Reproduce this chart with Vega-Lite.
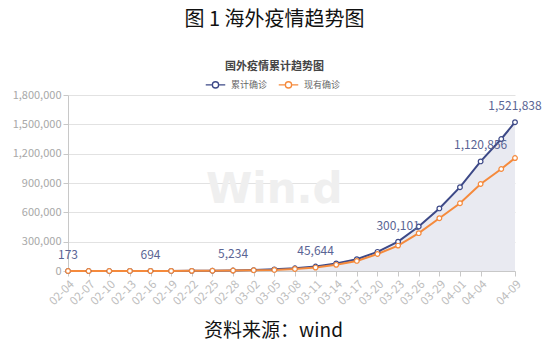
{
  "$schema": "https://vega.github.io/schema/vega-lite/v6.json",
  "width": 447,
  "height": 176,
  "autosize": {"type": "none"},
  "padding": {"left": 68, "top": 95, "right": 39, "bottom": 82},
  "background": "white",
  "title": {
    "text": "图 1 海外疫情趋势图",
    "subtitle": "国外疫情累计趋势图",
    "anchor": "middle",
    "frame": "group",
    "dx": -17,
    "offset": 2,
    "font": "Noto Sans CJK SC",
    "fontSize": 20,
    "fontWeight": "normal",
    "color": "#111111",
    "subtitleFont": "Noto Sans CJK SC",
    "subtitleFontSize": 11,
    "subtitleFontWeight": "bold",
    "subtitleColor": "#444444",
    "subtitlePadding": 31
  },
  "config": {
    "view": {"stroke": null},
    "font": "Noto Sans CJK SC"
  },
  "datasets": {
    "series": [
      {"date": "2020-02-04", "series": "累计确诊", "value": 173},
      {"date": "2020-02-07", "series": "累计确诊", "value": 280},
      {"date": "2020-02-10", "series": "累计确诊", "value": 390},
      {"date": "2020-02-13", "series": "累计确诊", "value": 560},
      {"date": "2020-02-16", "series": "累计确诊", "value": 694},
      {"date": "2020-02-19", "series": "累计确诊", "value": 1050},
      {"date": "2020-02-22", "series": "累计确诊", "value": 1650},
      {"date": "2020-02-25", "series": "累计确诊", "value": 2900},
      {"date": "2020-02-28", "series": "累计确诊", "value": 5234},
      {"date": "2020-03-02", "series": "累计确诊", "value": 9000},
      {"date": "2020-03-05", "series": "累计确诊", "value": 17000},
      {"date": "2020-03-08", "series": "累计确诊", "value": 28000},
      {"date": "2020-03-11", "series": "累计确诊", "value": 45644},
      {"date": "2020-03-14", "series": "累计确诊", "value": 78000},
      {"date": "2020-03-17", "series": "累计确诊", "value": 121000},
      {"date": "2020-03-20", "series": "累计确诊", "value": 196000},
      {"date": "2020-03-23", "series": "累计确诊", "value": 300101},
      {"date": "2020-03-26", "series": "累计确诊", "value": 455000},
      {"date": "2020-03-29", "series": "累计确诊", "value": 640000},
      {"date": "2020-04-01", "series": "累计确诊", "value": 857000},
      {"date": "2020-04-04", "series": "累计确诊", "value": 1120856},
      {"date": "2020-04-07", "series": "累计确诊", "value": 1350000},
      {"date": "2020-04-09", "series": "累计确诊", "value": 1521838},
      {"date": "2020-02-04", "series": "现有确诊", "value": 160},
      {"date": "2020-02-07", "series": "现有确诊", "value": 250},
      {"date": "2020-02-10", "series": "现有确诊", "value": 340},
      {"date": "2020-02-13", "series": "现有确诊", "value": 470},
      {"date": "2020-02-16", "series": "现有确诊", "value": 560},
      {"date": "2020-02-19", "series": "现有确诊", "value": 800},
      {"date": "2020-02-22", "series": "现有确诊", "value": 1300},
      {"date": "2020-02-25", "series": "现有确诊", "value": 2400},
      {"date": "2020-02-28", "series": "现有确诊", "value": 4500},
      {"date": "2020-03-02", "series": "现有确诊", "value": 7600},
      {"date": "2020-03-05", "series": "现有确诊", "value": 11000},
      {"date": "2020-03-08", "series": "现有确诊", "value": 21000},
      {"date": "2020-03-11", "series": "现有确诊", "value": 35000},
      {"date": "2020-03-14", "series": "现有确诊", "value": 63000},
      {"date": "2020-03-17", "series": "现有确诊", "value": 103000},
      {"date": "2020-03-20", "series": "现有确诊", "value": 174000},
      {"date": "2020-03-23", "series": "现有确诊", "value": 260000},
      {"date": "2020-03-26", "series": "现有确诊", "value": 387000},
      {"date": "2020-03-29", "series": "现有确诊", "value": 540000},
      {"date": "2020-04-01", "series": "现有确诊", "value": 693000},
      {"date": "2020-04-04", "series": "现有确诊", "value": 890000},
      {"date": "2020-04-07", "series": "现有确诊", "value": 1043000},
      {"date": "2020-04-09", "series": "现有确诊", "value": 1155000}
    ],
    "labels": [
      {"date": "2020-02-04", "value": 173, "text": "173"},
      {"date": "2020-02-16", "value": 694, "text": "694"},
      {"date": "2020-02-28", "value": 5234, "text": "5,234"},
      {"date": "2020-03-11", "value": 45644, "text": "45,644"},
      {"date": "2020-03-23", "value": 300101, "text": "300,101"},
      {"date": "2020-04-04", "value": 1120856, "text": "1,120,856"},
      {"date": "2020-04-09", "value": 1521838, "text": "1,521,838"}
    ],
    "watermark": [
      {"date": "2020-03-05", "value": 830000, "text": "Win.d"}
    ]
  },
  "encoding": {
    "x": {
      "field": "date",
      "type": "temporal",
      "scale": {"type": "utc", "domain": [{"year": 2020, "month": 2, "date": 4, "utc": true}, {"year": 2020, "month": 4, "date": 9, "utc": true}], "nice": false},
      "axis": {
        "values": [
          {"year": 2020, "month": 2, "date": 4, "utc": true},
          {"year": 2020, "month": 2, "date": 7, "utc": true},
          {"year": 2020, "month": 2, "date": 10, "utc": true},
          {"year": 2020, "month": 2, "date": 13, "utc": true},
          {"year": 2020, "month": 2, "date": 16, "utc": true},
          {"year": 2020, "month": 2, "date": 19, "utc": true},
          {"year": 2020, "month": 2, "date": 22, "utc": true},
          {"year": 2020, "month": 2, "date": 25, "utc": true},
          {"year": 2020, "month": 2, "date": 28, "utc": true},
          {"year": 2020, "month": 3, "date": 2, "utc": true},
          {"year": 2020, "month": 3, "date": 5, "utc": true},
          {"year": 2020, "month": 3, "date": 8, "utc": true},
          {"year": 2020, "month": 3, "date": 11, "utc": true},
          {"year": 2020, "month": 3, "date": 14, "utc": true},
          {"year": 2020, "month": 3, "date": 17, "utc": true},
          {"year": 2020, "month": 3, "date": 20, "utc": true},
          {"year": 2020, "month": 3, "date": 23, "utc": true},
          {"year": 2020, "month": 3, "date": 26, "utc": true},
          {"year": 2020, "month": 3, "date": 29, "utc": true},
          {"year": 2020, "month": 4, "date": 1, "utc": true},
          {"year": 2020, "month": 4, "date": 4, "utc": true},
          {"year": 2020, "month": 4, "date": 9, "utc": true}
        ],
        "labelExpr": "utcFormat(datum.value, '%m-%d')",
        "labelAngle": -45,
        "labelColor": "#bdbdbd",
        "labelFontSize": 11.5,
        "labelFont": "Noto Sans CJK SC",
        "labelOverlap": false,
        "labelPadding": 2,
        "tickColor": "#c8c8c8",
        "tickSize": 5,
        "domainColor": "#c8c8c8",
        "grid": false,
        "title": "资料来源：wind",
        "titleFont": "Noto Sans CJK SC",
        "titleFontSize": 19,
        "titleFontWeight": "normal",
        "titleColor": "#111111",
        "titleX": 205,
        "titleY": 59,
        "titleBaseline": "middle",
        "titleAlign": "center"
      }
    },
    "y": {
      "field": "value",
      "type": "quantitative",
      "scale": {"domain": [0, 1800000], "nice": false},
      "axis": {
        "values": [0, 300000, 600000, 900000, 1200000, 1500000, 1800000],
        "format": ",d",
        "labelColor": "#a8a8a8",
        "labelFontSize": 11,
        "labelFont": "Noto Sans CJK SC",
        "labelPadding": 2,
        "tickColor": "#c8c8c8",
        "tickSize": 5,
        "domainColor": "#c8c8c8",
        "gridColor": "#e2e2e2",
        "gridWidth": 1,
        "title": null
      }
    }
  },
  "layer": [
    {
      "data": {"name": "watermark"},
      "mark": {"type": "text", "font": "DejaVu Sans", "fontWeight": "bold", "fontSize": 42, "color": "#efefef", "align": "center", "baseline": "middle"},
      "encoding": {"text": {"field": "text"}}
    },
    {
      "data": {"name": "series"},
      "transform": [{"filter": "datum.series === '累计确诊'"}],
      "mark": {"type": "area", "color": "#e9eaf1", "opacity": 1},
      "encoding": {}
    },
    {
      "data": {"name": "series"},
      "mark": {"type": "line", "strokeWidth": 2},
      "encoding": {
        "color": {
          "field": "series",
          "type": "nominal",
          "scale": {"domain": ["累计确诊", "现有确诊"], "range": ["#3d4987", "#f58a3c"]},
          "sort": ["累计确诊", "现有确诊"],
          "legend": {
            "title": null,
            "orient": "none",
            "direction": "horizontal",
            "legendX": 137,
            "legendY": -21,
            "symbolType": "M-1,0L-0.32,0M0.32,0L1,0M-0.32,0A0.32,0.32 0 1,1 0.32,0A0.32,0.32 0 1,1 -0.32,0",
            "symbolSize": 380,
            "symbolStrokeWidth": 1.3,
            "symbolFillColor": "white",
            "labelFontSize": 9,
            "labelColor": "#666666",
            "labelFont": "Noto Sans CJK SC",
            "columnPadding": 8,
            "labelOffset": 5
          }
        }
      }
    },
    {
      "data": {"name": "series"},
      "mark": {"type": "point", "filled": true, "fill": "white", "size": 22, "strokeWidth": 1.2, "opacity": 1},
      "encoding": {
        "stroke": {"field": "series", "type": "nominal", "scale": {"domain": ["累计确诊", "现有确诊"], "range": ["#3d4987", "#f58a3c"]}, "legend": null}
      }
    },
    {
      "data": {"name": "labels"},
      "mark": {"type": "text", "dy": -9, "baseline": "bottom", "align": "center", "fontSize": 12, "color": "#5a6494", "font": "Noto Sans CJK SC"},
      "encoding": {"text": {"field": "text"}}
    }
  ]
}
